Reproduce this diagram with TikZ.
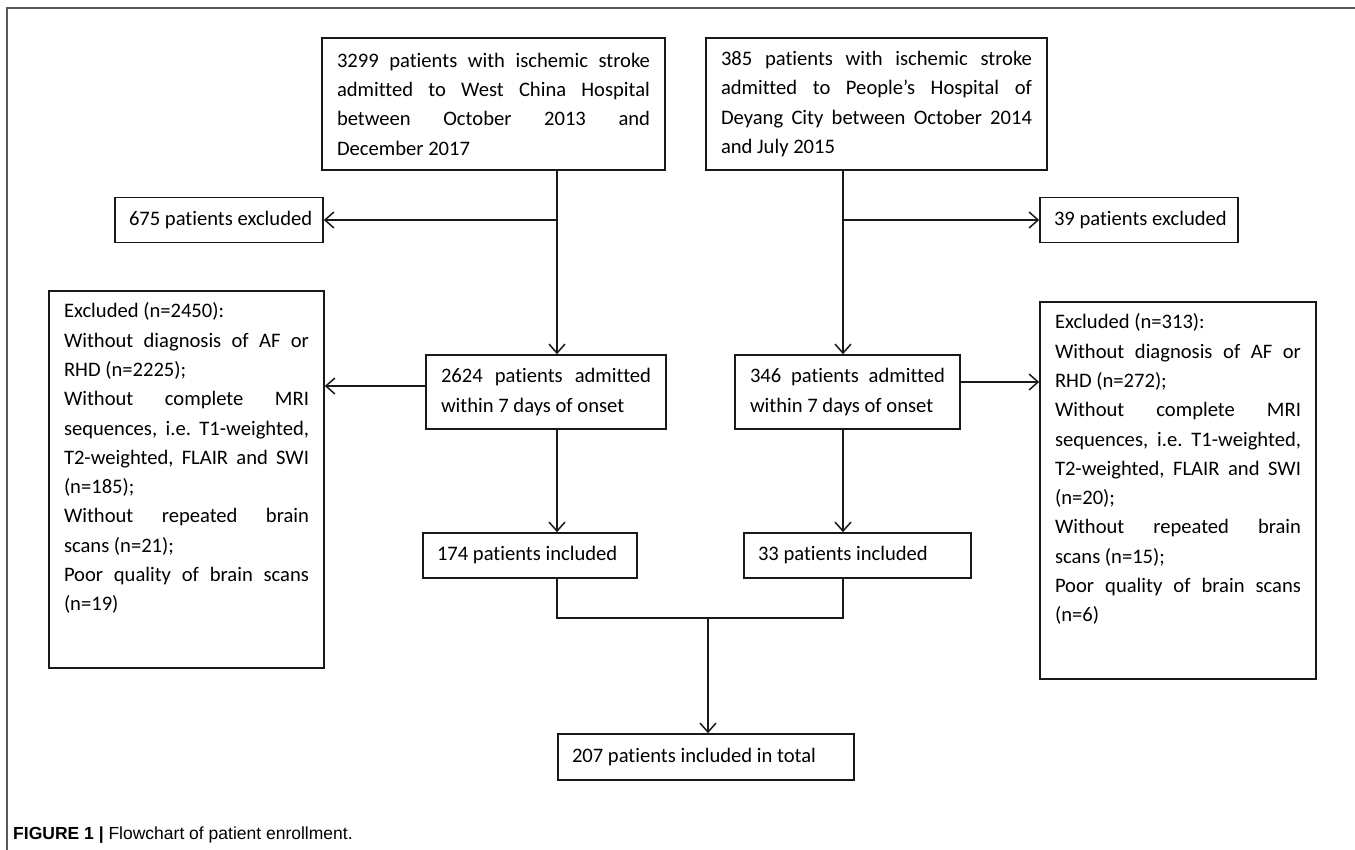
\documentclass[tikz,border=0pt]{standalone}
\usepackage{fontspec}
\setmainfont{Carlito}[Ligatures=NoCommon]
\newfontfamily\capfont{Liberation Sans}
\usetikzlibrary{arrows.meta}

\newcommand{\flowfont}{\fontsize{20.6}{29.3}\selectfont\frenchspacing\tolerance=10000\hbadness=10000\hyphenpenalty=10000\exhyphenpenalty=10000}

\begin{document}
\begin{tikzpicture}[
    x=1pt, y=-1pt,
    flowbox/.style={rectangle, draw=black!90, line width=1.6pt, inner xsep=15pt, inner ysep=0pt, align=justify, font=\flowfont},
    onebox/.style={rectangle, draw=black!90, line width=1.6pt, inner xsep=14pt, inner ysep=0pt, minimum height=45pt, font=\flowfont},
    tallbox/.style={flowbox, anchor=north, inner ysep=12pt},
    link/.style={draw=black!90, line width=1.5pt},
    arrow/.style={link, -{Straight Barb[length=9pt,width=16pt]}},
]
\useasboundingbox (0,0) rectangle (1355,850);

% outer frame
\draw[black!65, line width=1.2pt] (7,850) -- (7,8) -- (1355,8);

% Row 1 - cohorts
\node[flowbox, text width=313pt, minimum height=132pt] (src1) at (493.5,104) {
    3299 patients with ischemic stroke\linebreak
    admitted to West China Hospital\linebreak
    between October 2013 and\linebreak
    December 2017
};

\node[flowbox, text width=311pt, minimum height=132pt] (src2) at (876.5,104) {
    385 patients with ischemic stroke\linebreak
    admitted to People’s Hospital of\linebreak
    Deyang City between October 2014\linebreak
    and July 2015
};

% first exclusions
\node[onebox] (exc1) at (219,220) {\makebox[180pt][l]{675 patients excluded}};
\node[onebox] (exc2) at (1139,220) {\makebox[170pt][l]{39 patients excluded}};

% Row 2 - admitted within 7 days
\node[flowbox, text width=210pt, minimum height=74pt] (adm1) at (546,392) {
    2624 patients admitted\linebreak
    within 7 days of onset
};
\node[flowbox, text width=195pt, minimum height=74pt] (adm2) at (847.5,392) {
    346 patients admitted\linebreak
    within 7 days of onset
};

% exclusion reasons (strut keeps the empty space at the bottom)
\node[tallbox, text width=245pt] (rsn1) at (186.5,290) {
    Excluded (n=2450):\par
    Without diagnosis of AF or\linebreak RHD (n=2225);\par
    Without complete MRI\linebreak sequences, i.e. T1-weighted,\linebreak T2-weighted, FLAIR and SWI\linebreak (n=185);\par
    Without repeated brain\linebreak scans (n=21);\par
    Poor quality of brain scans\linebreak (n=19)\rule[-45pt]{0pt}{45pt}
};
\node[tallbox, text width=246pt] (rsn2) at (1178,301) {
    Excluded (n=313):\par
    Without diagnosis of AF or\linebreak RHD (n=272);\par
    Without complete MRI\linebreak sequences, i.e. T1-weighted,\linebreak T2-weighted, FLAIR and SWI\linebreak (n=20);\par
    Without repeated brain\linebreak scans (n=15);\par
    Poor quality of brain scans\linebreak (n=6)\rule[-45pt]{0pt}{45pt}
};

% Row 3 - included
\node[onebox] (inc1) at (530,555.5) {\makebox[186pt][l]{174 patients included}};
\node[onebox] (inc2) at (857.5,555.5) {\makebox[199pt][l]{33 patients included}};

\node[onebox, minimum height=46pt] (total) at (706,757) {\makebox[268pt][l]{207 patients included in total}};

% caption
\node[anchor=base west, inner sep=0pt, font=\capfont\fontsize{17.5}{20}\selectfont] (caption) at (13,839)
    {\textbf{FIGURE 1 |} Flowchart of patient enrollment.};

% connectors
\coordinate (spL) at (557,0);
\coordinate (spR) at (843,0);
\coordinate (join) at (708,618);

\draw[arrow] (src1.south -| spL) -- (adm1.north -| spL);
\draw[arrow] (spL |- exc1.east) -- (exc1.east);
\draw[arrow] (src2.south -| spR) -- (adm2.north -| spR);
\draw[arrow] (spR |- exc2.west) -- (exc2.west);

\draw[arrow] ([yshift=6pt]adm1.west) -- ([yshift=6pt]adm1.west -| rsn1.east);
\draw[arrow] ([yshift=10pt]adm2.east) -- ([yshift=10pt]adm2.east -| rsn2.west);

\draw[arrow] (adm1.south -| spL) -- (inc1.north -| spL);
\draw[arrow] (adm2.south -| spR) -- (inc2.north -| spR);

\draw[link] (inc1.south -| spL) |- (join) -| (inc2.south -| spR);
\draw[arrow] (join) -- (join |- total.north);

\end{tikzpicture}
\end{document}
